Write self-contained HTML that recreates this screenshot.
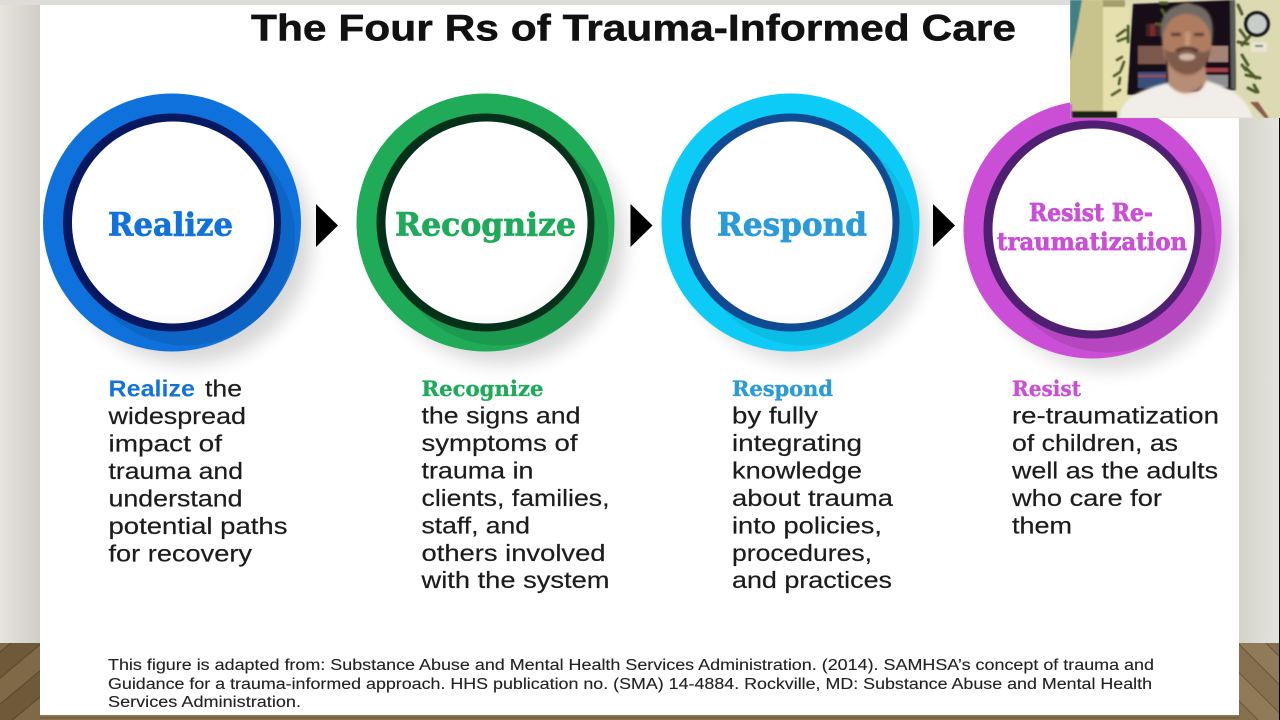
<!DOCTYPE html>
<html><head><meta charset="utf-8">
<style>
html,body{margin:0;padding:0;background:#000;width:1280px;height:720px;overflow:hidden}
svg{display:block}
.b{font-family:"Liberation Sans",sans-serif;font-size:23px;fill:#1c1c1c;stroke:#1c1c1c;stroke-width:.2}
.h{font-family:"Liberation Sans",sans-serif;font-size:23px;font-weight:bold}
.s{font-family:"DejaVu Serif",serif;font-weight:bold;stroke-width:.7}
.t{font-family:"DejaVu Serif",serif;font-weight:bold;font-size:21.5px;stroke-width:.35}
.f{font-family:"Liberation Sans",sans-serif;font-size:15.5px;fill:#222;stroke:#222;stroke-width:.12}
</style></head><body>
<svg width="1280" height="720" viewBox="0 0 1280 720" xmlns="http://www.w3.org/2000/svg">
<defs>
<filter id="bl" x="-30%" y="-30%" width="160%" height="160%"><feGaussianBlur stdDeviation="9"/></filter>
<filter id="b1" x="-30%" y="-30%" width="160%" height="160%"><feGaussianBlur stdDeviation="1.2"/></filter>
<filter id="bf" x="-30%" y="-30%" width="160%" height="160%"><feGaussianBlur stdDeviation="0.7"/></filter>
<linearGradient id="wall" x1="0" x2="1" y1="0" y2="0"><stop offset="0" stop-color="#e6e4dd"/><stop offset="1" stop-color="#cfcdc6"/></linearGradient>
<linearGradient id="wall2" x1="0" x2="1" y1="0" y2="0"><stop offset="0" stop-color="#d4d3cb"/><stop offset="1" stop-color="#e4e3dc"/></linearGradient>
<pattern id="woodL" width="40" height="40" patternUnits="userSpaceOnUse" patternTransform="rotate(-40)">
<rect width="40" height="40" fill="#6e5939"/><rect y="0" width="40" height="19" fill="#7f6946"/><rect y="19" width="40" height="1" fill="#574630"/><rect y="39" width="40" height="1" fill="#574630"/>
</pattern>
<pattern id="woodR" width="40" height="40" patternUnits="userSpaceOnUse" patternTransform="rotate(45)">
<rect width="40" height="40" fill="#84704e"/><rect y="0" width="40" height="19" fill="#8f7b57"/><rect y="19" width="40" height="1" fill="#65553a"/><rect y="39" width="40" height="1" fill="#65553a"/>
</pattern>
<radialGradient id="inner" cx="45%" cy="45%" r="62%"><stop offset="0.8" stop-color="#ffffff"/><stop offset="1" stop-color="#f4f4f4"/></radialGradient>
<clipPath id="c1"><circle cx="172" cy="222.5" r="129"/></clipPath>
<clipPath id="c2"><circle cx="485.5" cy="222.5" r="129"/></clipPath>
<clipPath id="c3"><circle cx="790.5" cy="222.5" r="129"/></clipPath>
<clipPath id="c4"><circle cx="1092.5" cy="229.5" r="129"/></clipPath>
</defs>

<rect width="1280" height="720" fill="#e2e0d9"/>
<rect x="0" y="0" width="40" height="643" fill="url(#wall)"/>
<rect x="1239" y="0" width="41" height="643" fill="url(#wall2)"/>
<rect x="0" y="0" width="1280" height="5" fill="#dddcd8"/>
<rect x="0" y="643" width="40" height="77" fill="url(#woodL)"/>
<rect x="1239" y="643" width="41" height="77" fill="url(#woodR)"/>
<rect x="40" y="715" width="1199" height="5" fill="#8b7350"/>
<rect x="40" y="717" width="1199" height="1.500" fill="#5f4c32" opacity=".6"/>
<rect x="1279" y="118" width="1" height="602" fill="#000"/>
<rect x="40" y="5" width="1199" height="710" fill="#fff"/>

<!-- Title -->
<text x="251" y="40.5" font-family="Liberation Sans,sans-serif" font-weight="bold" font-size="37" fill="#111" stroke="#111" stroke-width=".5" textLength="765" lengthAdjust="spacingAndGlyphs">The Four Rs of Trauma-Informed Care</text>

<!-- Circle 1 -->
<circle cx="188" cy="240" r="124" fill="#000" opacity=".15" filter="url(#bl)"/>
<circle cx="172" cy="222.5" r="129" fill="#0f72dc"/>
<circle cx="186" cy="236.5" r="109" fill="#000" opacity=".1" clip-path="url(#c1)"/>
<circle cx="172" cy="222.5" r="109" fill="#06185f"/>
<circle cx="173" cy="222.5" r="101" fill="url(#inner)"/>
<text x="108" y="235.5" class="s" font-size="32" fill="#1072dc" stroke="#1072dc" textLength="125" lengthAdjust="spacingAndGlyphs">Realize</text>

<!-- Circle 2 -->
<circle cx="501" cy="240" r="124" fill="#000" opacity=".15" filter="url(#bl)"/>
<circle cx="485.5" cy="222.5" r="129" fill="#1fab58"/>
<circle cx="499.5" cy="236.5" r="109" fill="#000" opacity=".1" clip-path="url(#c2)"/>
<circle cx="485.5" cy="222.5" r="109" fill="#05301a"/>
<circle cx="486.5" cy="222.5" r="101" fill="url(#inner)"/>
<text x="395" y="235.5" class="s" font-size="32" fill="#1dab5a" stroke="#1dab5a" textLength="181" lengthAdjust="spacingAndGlyphs">Recognize</text>

<!-- Circle 3 -->
<circle cx="806" cy="240" r="124" fill="#000" opacity=".13" filter="url(#bl)"/>
<circle cx="790.5" cy="222.5" r="129" fill="#0ccbf7"/>
<circle cx="804.5" cy="236.5" r="109" fill="#000" opacity=".07" clip-path="url(#c3)"/>
<circle cx="790.5" cy="222.5" r="109" fill="#104a92"/>
<circle cx="791.5" cy="222.5" r="101" fill="url(#inner)"/>
<text x="717" y="235.5" class="s" font-size="32" fill="#2a9bd9" stroke="#2a9bd9" textLength="150" lengthAdjust="spacingAndGlyphs">Respond</text>

<!-- Circle 4 -->
<circle cx="1108" cy="247" r="124" fill="#000" opacity=".13" filter="url(#bl)"/>
<circle cx="1092.5" cy="229.5" r="129" fill="#cb4fd6"/>
<circle cx="1106.5" cy="243.5" r="109" fill="#000" opacity=".1" clip-path="url(#c4)"/>
<circle cx="1092.5" cy="229.5" r="109" fill="#4f1f72"/>
<circle cx="1093.5" cy="229.5" r="101" fill="url(#inner)"/>
<text x="1029" y="221" class="s" font-size="24" fill="#cb4fd6" stroke="#cb4fd6" stroke-width=".5" textLength="124" lengthAdjust="spacingAndGlyphs">Resist Re-</text>
<text x="997" y="250" class="s" font-size="24" fill="#cb4fd6" stroke="#cb4fd6" stroke-width=".5" textLength="190" lengthAdjust="spacingAndGlyphs">traumatization</text>

<!-- Arrows -->
<polygon points="316,204 338,225.5 316,247" fill="#000"/>
<polygon points="630.5,204 652.5,225.5 630.5,247" fill="#000"/>
<polygon points="933,204 955,225.5 933,247" fill="#000"/>

<!-- Column 1 -->
<text x="108.5" y="396.5" class="h" fill="#1072dc" textLength="86.5" lengthAdjust="spacingAndGlyphs">Realize</text>
<text x="205" y="396.5" class="b" textLength="37" lengthAdjust="spacingAndGlyphs">the</text>
<text x="108.5" y="424" class="b" textLength="137.5" lengthAdjust="spacingAndGlyphs">widespread</text>
<text x="108.5" y="451.5" class="b" textLength="113.5" lengthAdjust="spacingAndGlyphs">impact of</text>
<text x="108.5" y="479" class="b" textLength="134.5" lengthAdjust="spacingAndGlyphs">trauma and</text>
<text x="108.5" y="506.5" class="b" textLength="134" lengthAdjust="spacingAndGlyphs">understand</text>
<text x="108.5" y="534" class="b" textLength="179" lengthAdjust="spacingAndGlyphs">potential paths</text>
<text x="108.5" y="561.5" class="b" textLength="143.5" lengthAdjust="spacingAndGlyphs">for recovery</text>

<!-- Column 2 -->
<text x="421.5" y="396" class="t" fill="#1dab5a" stroke="#1dab5a" textLength="122" lengthAdjust="spacingAndGlyphs">Recognize</text>
<text x="421.5" y="423.5" class="b" textLength="159" lengthAdjust="spacingAndGlyphs">the signs and</text>
<text x="421.5" y="451" class="b" textLength="156" lengthAdjust="spacingAndGlyphs">symptoms of</text>
<text x="421.5" y="478.5" class="b" textLength="112" lengthAdjust="spacingAndGlyphs">trauma in</text>
<text x="421.5" y="506" class="b" textLength="188" lengthAdjust="spacingAndGlyphs">clients, families,</text>
<text x="421.5" y="533.5" class="b" textLength="108.5" lengthAdjust="spacingAndGlyphs">staff, and</text>
<text x="421.5" y="561" class="b" textLength="184" lengthAdjust="spacingAndGlyphs">others involved</text>
<text x="421.5" y="588" class="b" textLength="188" lengthAdjust="spacingAndGlyphs">with the system</text>

<!-- Column 3 -->
<text x="732" y="396" class="t" fill="#2a9bd9" stroke="#2a9bd9" textLength="101" lengthAdjust="spacingAndGlyphs">Respond</text>
<text x="732" y="423.5" class="b" textLength="86" lengthAdjust="spacingAndGlyphs">by fully</text>
<text x="732" y="451" class="b" textLength="130" lengthAdjust="spacingAndGlyphs">integrating</text>
<text x="732" y="478.5" class="b" textLength="130" lengthAdjust="spacingAndGlyphs">knowledge</text>
<text x="732" y="506" class="b" textLength="161" lengthAdjust="spacingAndGlyphs">about trauma</text>
<text x="732" y="533.5" class="b" textLength="150" lengthAdjust="spacingAndGlyphs">into policies,</text>
<text x="732" y="561" class="b" textLength="140" lengthAdjust="spacingAndGlyphs">procedures,</text>
<text x="732" y="588" class="b" textLength="160" lengthAdjust="spacingAndGlyphs">and practices</text>

<!-- Column 4 -->
<text x="1012" y="396" class="t" fill="#cb4fd6" stroke="#cb4fd6" textLength="69" lengthAdjust="spacingAndGlyphs">Resist</text>
<text x="1012" y="423.5" class="b" textLength="207" lengthAdjust="spacingAndGlyphs">re-traumatization</text>
<text x="1012" y="451" class="b" textLength="166" lengthAdjust="spacingAndGlyphs">of children, as</text>
<text x="1012" y="478.5" class="b" textLength="206" lengthAdjust="spacingAndGlyphs">well as the adults</text>
<text x="1012" y="506" class="b" textLength="150" lengthAdjust="spacingAndGlyphs">who care for</text>
<text x="1012" y="533.5" class="b" textLength="60" lengthAdjust="spacingAndGlyphs">them</text>

<!-- Footer -->
<text x="108" y="670" class="f" textLength="1046" lengthAdjust="spacingAndGlyphs">This figure is adapted from: Substance Abuse and Mental Health Services Administration. (2014). SAMHSA’s concept of trauma and</text>
<text x="108" y="689" class="f" textLength="1044" lengthAdjust="spacingAndGlyphs">Guidance for a trauma-informed approach. HHS publication no. (SMA) 14-4884. Rockville, MD: Substance Abuse and Mental Health</text>
<text x="108" y="707" class="f" textLength="193" lengthAdjust="spacingAndGlyphs">Services Administration.</text>

<!-- Webcam -->
<svg x="1070" y="0" width="210" height="118" viewBox="0 0 210 118">
<rect width="210" height="118" fill="#dcdab2"/>
<g filter="url(#bf)">
<rect x="0" y="0" width="36" height="118" fill="#c8c28c"/>
<rect x="33" y="6" width="26" height="106" fill="#e6e0ae"/>
<rect x="33" y="0" width="22" height="7" fill="#a59e6c"/>
<polygon points="0,0 12,0 7,28 0,62" fill="#3f7f85"/>
<rect x="0" y="111" width="47" height="7" fill="#1f2018"/>
<rect x="0" y="104" width="2" height="14" fill="#c34fcc"/>
<polygon points="63,4 165,0 166,90 57,95" fill="#120f14"/>
<polygon points="160,0 165,0 166,90 161,88" fill="#5c5c58"/>
<rect x="76" y="24" width="18" height="12" fill="#3c2226"/>
<rect x="80" y="24" width="5" height="12" fill="#7a2a2c"/>
<rect x="68" y="46" width="28" height="18" fill="#7c584e"/>
<rect x="68" y="72" width="28" height="16" fill="#38507a"/>
<rect x="68" y="75" width="28" height="2" fill="#a34c58"/>
<rect x="138" y="46" width="20" height="16" fill="#a58478"/>
<rect x="132" y="68" width="26" height="4" fill="#a84048"/>
<rect x="134" y="75" width="24" height="12" fill="#8f8e90"/>
<g fill="none" stroke="#4d5a28" stroke-width="3" stroke-linecap="round">
<path d="M90 3 L97 3 M92 10 L98 20 M100 20 L108 20 M86 24 L96 25"/>
<path d="M47 36 L55 30 M48 41 L56 38 M58 26 L58 42 M47 60 L52 57 M54 62 L51 70 M44 76 L50 72 M50 78 L49 84 M42 95 L50 90"/>
<path d="M168 5 L172 14 M176 19 L184 15 M170 30 L176 38 M172 45 L180 36 M168 42 L178 44 M172 55 L178 65 M172 65 L176 70 M176 75 L190 78 M176 68 L186 78 M178 88 L186 92 M184 85 L188 92"/>
</g>
<circle cx="187" cy="24" r="13" fill="#17171b"/>
<circle cx="187" cy="24" r="9.5" fill="#c8cdc9"/>
<rect x="181" y="42" width="16" height="10" fill="#e6e6d2"/>
<rect x="185" y="45" width="8" height="2" fill="#777"/>
<polygon points="195,118 180,102 188,102 199,118" fill="#8a5a48"/>
</g>
<g filter="url(#b1)">
<path d="M49 118 C52 98 68 90 100 82 C115 98 128 96 138 81 C160 88 176 96 183 118 Z" fill="#f1eeea"/>
<path d="M100 82 C110 102 128 100 138 81" fill="none" stroke="#f8e2da" stroke-width="3"/>
<path d="M97 60 L98 84 C110 98 126 96 137 80 L134 56 Z" fill="#b78d74"/>
<ellipse cx="117" cy="40" rx="25" ry="37" fill="#b07c60"/>
<path d="M92 40 C86 12 103 4 118 4 C137 4 146 16 142 42 C140 26 132 14 116 14 C103 14 95 24 92 40Z" fill="#6f6a62"/>
<path d="M94 48 C98 82 136 84 141 48 C134 56 127 50 117 50 C107 50 101 56 94 48Z" fill="#7d5a48"/>
<ellipse cx="117" cy="57" rx="8" ry="3.500" fill="#d5b7a6"/>
<path d="M106 51 Q117 45 128 51" fill="none" stroke="#4c3026" stroke-width="3"/>
<rect x="101" y="33" width="10" height="3" fill="#4a3026"/>
<rect x="124" y="33" width="10" height="3" fill="#4a3026"/>
<rect x="115" y="32" width="5" height="14" fill="#c59878"/>
</g>
</svg>
</svg>
</body></html>
